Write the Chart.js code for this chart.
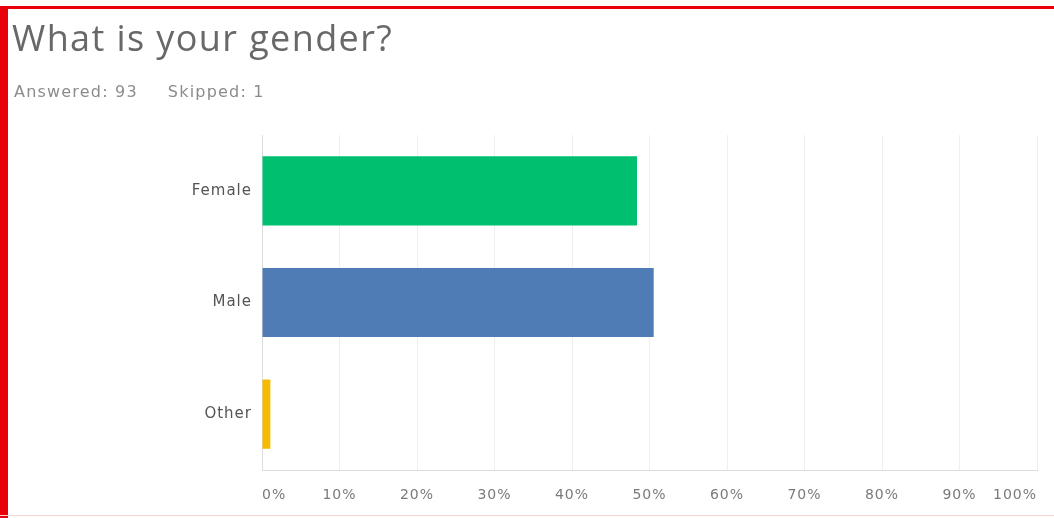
<!DOCTYPE html>
<html>
<head>
<meta charset="utf-8">
<script src="https://cdn.jsdelivr.net/npm/chart.js@4"></script>
<style>
  html, body { margin: 0; padding: 0; background: #fff; }
  #frame {
    position: relative;
    width: 1054px;
    height: 518px;
    overflow: hidden;
  }
  #frame .edge-top { position: absolute; left: 0; top: 6px; width: 1054px; height: 3px; background: #e8000b; }
  #frame .edge-left { position: absolute; left: 0; top: 6px; width: 8px; height: 512px; background: #e8000b; }
  #frame .edge-bottom { position: absolute; left: 0; top: 515px; width: 1054px; height: 1px; background: #f6d6d2; }
  h1 {
    position: absolute; left: 12px; top: 13px; margin: 0;
    font-family: "Open Sans", sans-serif;
    font-size: 36px; font-weight: 400; color: #686868; letter-spacing: 1.4px;
  }
  .meta {
    position: absolute; left: 14px; top: 82px;
    font-family: "DejaVu Sans", sans-serif;
    font-size: 16px; color: #8c8c8c; letter-spacing: 1.2px;
  }
  .meta span + span { margin-left: 30px; }
  canvas { position: absolute; left: 0; top: 0; }
</style>
</head>
<body>
<div id="frame">
  <canvas id="gender" width="1054" height="518"></canvas>
  <h1>What is your gender?</h1>
  <div class="meta"><span>Answered: 93</span><span>Skipped: 1</span></div>
  <div class="edge-top"></div>
  <div class="edge-left"></div>
  <div class="edge-bottom"></div>
</div>
<script>
const answers = ['Female', 'Male', 'Other'];
const shares = [48.39, 50.54, 1.08];
const barColors = ['#00bf6f', '#507cb6', '#f6bb00'];
const tickSteps = [0, 10, 20, 30, 40, 50, 60, 70, 80, 90, 100];

// slightly wider letter spacing for the axis labels
const spacedText = {
    id: 'spacedText',
    beforeDraw(chart) {
        chart.ctx.letterSpacing = '1px';
    }
};

new Chart(document.getElementById('gender'), {
    type: 'bar',
    plugins: [spacedText],
    data: {
        labels: answers,
        datasets: [{
            data: shares,
            backgroundColor: barColors,
            borderWidth: 0,
            categoryPercentage: 0.62,
            barPercentage: 1
        }]
    },
    options: {
        indexAxis: 'y',
        responsive: false,
        animation: false,
        layout: { padding: { left: 8, top: 135, right: 17, bottom: 0 } },
        plugins: {
            legend: { display: false },
            tooltip: { enabled: false }
        },
        scales: {
            x: {
                min: 0,
                max: 100,
                afterBuildTicks: scale => {
                    scale.ticks = tickSteps.map(v => ({ value: v }));
                },
                afterFit: scale => { scale.height = 48; },
                grid: { color: '#efefef', drawTicks: false },
                border: { display: true, color: '#dcdcdc' },
                ticks: {
                    align: 'inner',
                    padding: 17,
                    color: '#7a7a7a',
                    font: { family: 'DejaVu Sans', size: 14 },
                    callback: value => `${value}%`
                }
            },
            y: {
                afterFit: scale => { scale.width = 254; },
                grid: { display: false, drawTicks: false },
                border: { display: true, color: '#dcdcdc' },
                ticks: {
                    padding: 10,
                    color: '#555',
                    font: { family: 'DejaVu Sans', size: 15 }
                }
            }
        }
    }
});
</script>
</body>
</html>
